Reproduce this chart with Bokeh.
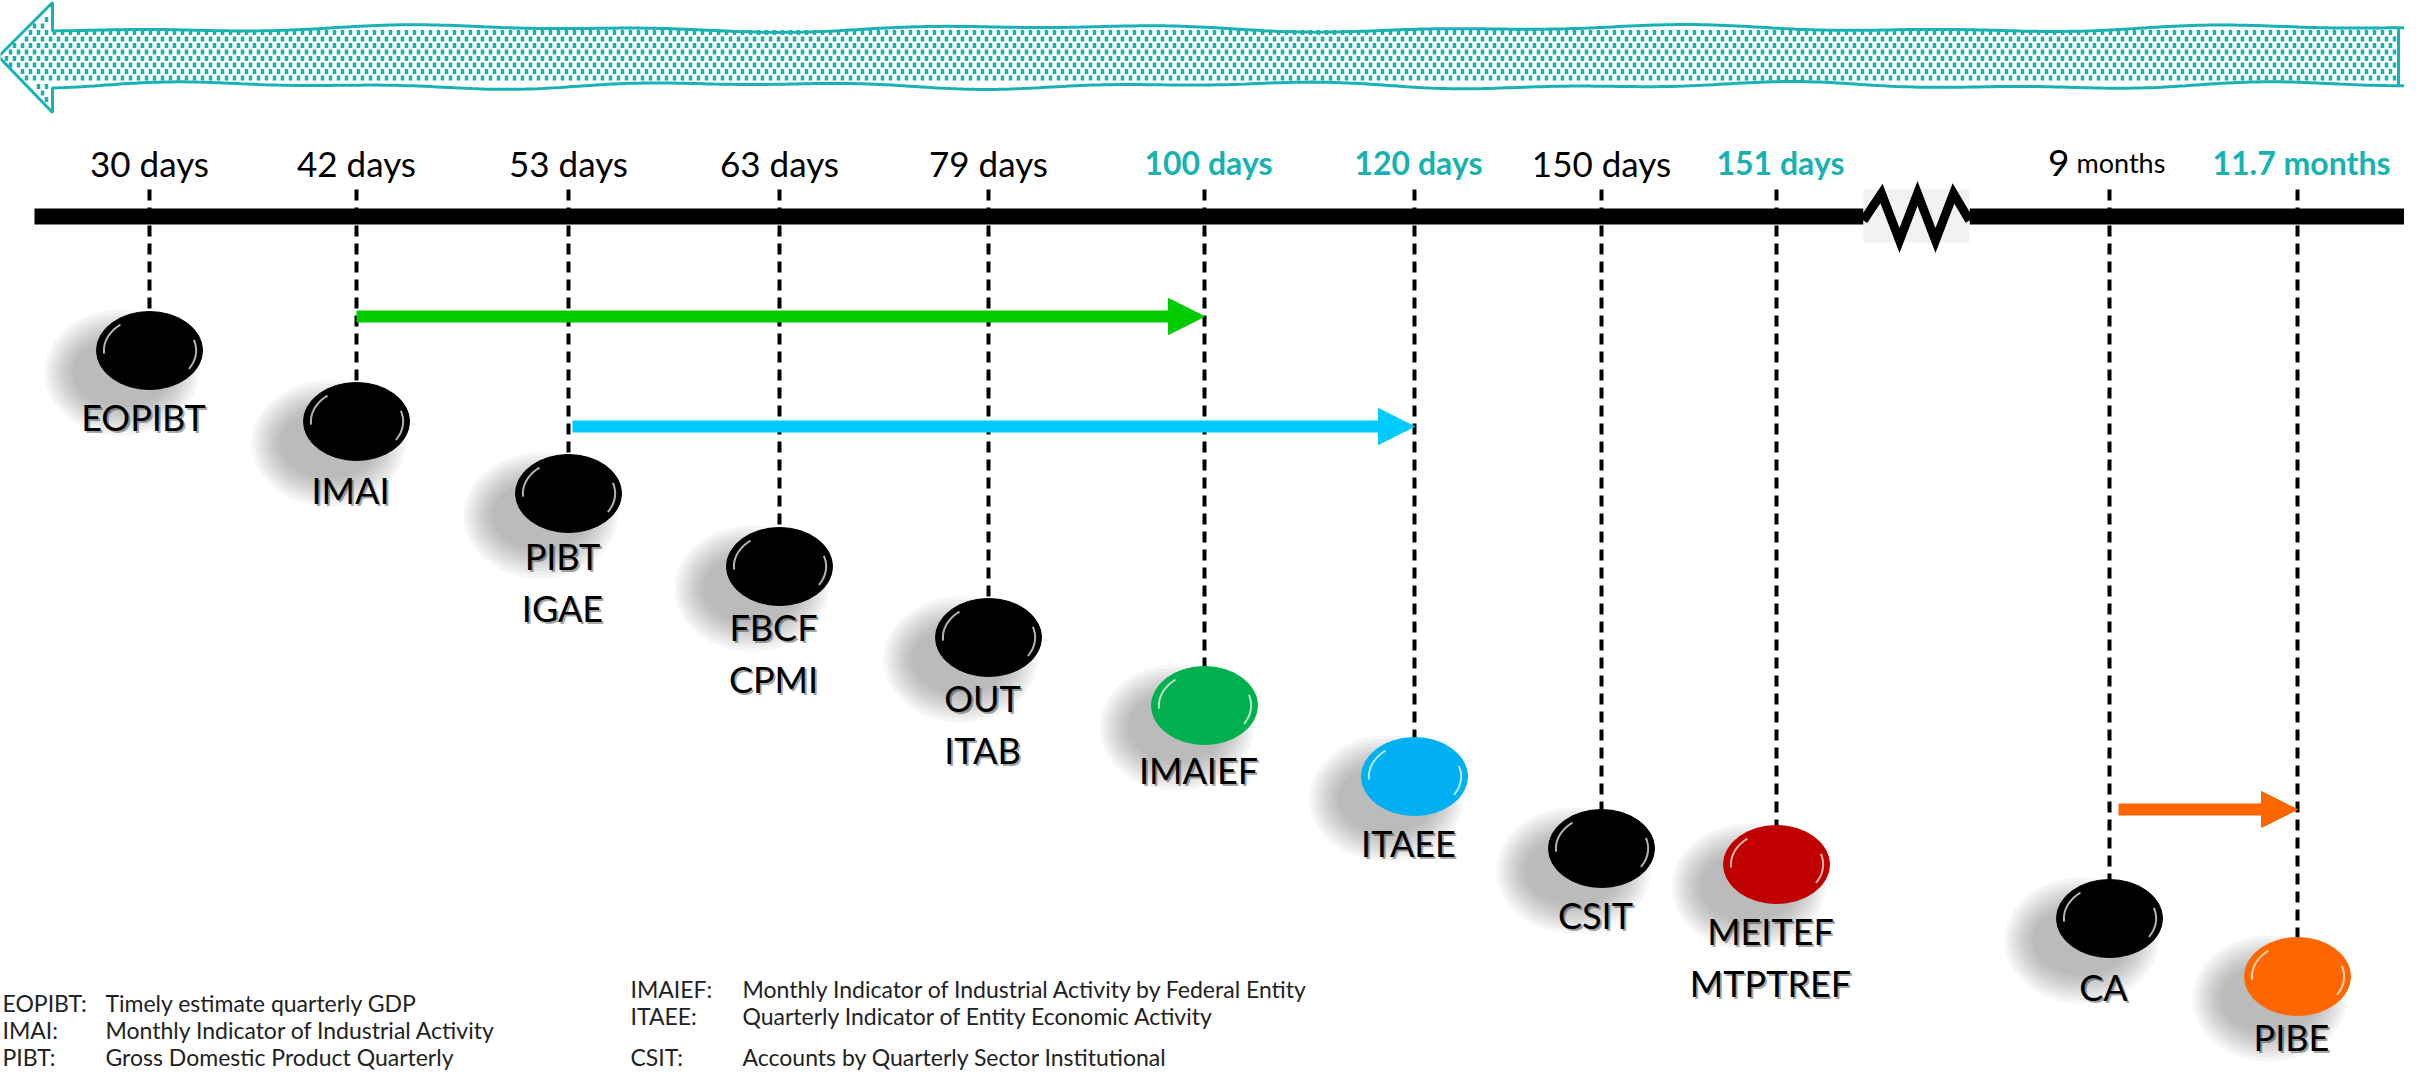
import numpy as np
from bokeh.plotting import figure
from bokeh.models import ColumnDataSource, Range1d, Arrow, NormalHead
from bokeh.core.properties import value
from bokeh.embed import file_html
from bokeh.resources import INLINE

# ---------------- data ----------------
tick_labels = ["30 days", "42 days", "53 days", "63 days", "79 days", "100 days",
               "120 days", "150 days", "151 days", "9 months", "11.7 months"]
tick_highlight = [False, False, False, False, False, True, True, False, True, False, True]
indicator_labels = ["EOPIBT", "IMAI", "PIBT\nIGAE", "FBCF\nCPMI", "OUT\nITAB", "IMAIEF",
                    "ITAEE", "CSIT", "MEITEF\nMTPTREF", "CA", "PIBE"]
indicator_colors = ["#000000", "#000000", "#000000", "#000000", "#000000", "#00B050",
                    "#00B0F0", "#000000", "#C00000", "#000000", "#FF6600"]
lag_from = [1, 2, 9]
lag_to = [5, 6, 10]
lag_colors = ["#00CC00", "#00CCFF", "#FF6600"]
legend_left_abbr = ["EOPIBT:", "IMAI:", "PIBT:"]
legend_left_desc = ["Timely estimate quarterly  GDP",
                    "Monthly Indicator of Industrial Activity",
                    "Gross Domestic Product Quarterly"]
legend_right_abbr = ["IMAIEF:", "ITAEE:", "CSIT:"]
legend_right_desc = ["Monthly Indicator of Industrial Activity by Federal Entity",
                     "Quarterly Indicator of Entity Economic Activity",
                     "Accounts by Quarterly Sector Institutional"]

# ---------------- layout (page pixels) ----------------
W, H = 2404, 1070
slot_x = [157, 364, 576, 787, 996, 1212, 1422, 1609, 1784, 2117, 2305]
row_y = [358, 429, 501, 574, 645, 713, 784, 856, 872, 926, 984]
label_dy = [44, 46, 40, 38, 38, 42, 44, 44, 44, 46, 38]
lag_y = [324, 434, 817]
lag_dx0 = [0, 4, 9]
legend_left_y = [1010, 1037, 1064]
legend_right_y = [996, 1023, 1064]
TEAL = "#19B2B2"
FONT = value("Lato")
ELL_W, ELL_H = 106, 78

p = figure(width=W, height=H, x_range=Range1d(8, 8 + W), y_range=Range1d(8 + H, 8),
           output_backend="svg", toolbar_location=None, min_border=0,
           x_axis_type=None, y_axis_type=None, outline_line_color=None)
p.grid.visible = False
p.background_fill_color = "white"

# ---- top stippled arrow ----
xs = np.linspace(60, 2418, 400)
top_y = 36 + 2.5 * np.sin(xs / 97.0) + 1.5 * np.sin(xs / 41.0 + 1.0)
bot_y = 93 + 2.5 * np.sin(xs / 83.0 + 2.0) + 1.5 * np.sin(xs / 37.0)
px = [6, 60] + list(xs) + list(xs[::-1]) + [60, 6]
py = [64, 10] + list(top_y) + list(bot_y[::-1]) + [120, 64]
p.patch(px, py, fill_color="white", line_color=None)

dx_, dy_ = [], []
for r, yy in enumerate(np.arange(40, 92, 6.5)):
    off = 0 if r % 2 == 0 else 4
    for xx in np.arange(14 + off, 2404, 8):
        if xx >= 62:
            ok = True
        else:
            ok = (64 - (xx - 6) * 52 / 54.0 + 3) < yy < (64 + (xx - 6) - 3)
        if ok:
            dx_.append(xx)
            dy_.append(yy)
for r, yy in enumerate(list(np.arange(14, 40, 6.5)) + list(np.arange(94, 118, 6.5))):
    off = 0 if r % 2 == 0 else 4
    for xx in np.arange(14 + off, 58, 8):
        if (64 - (xx - 6) * 52 / 54.0 + 4) < yy < (64 + (xx - 6) - 4):
            dx_.append(xx)
            dy_.append(yy)
p.rect(x=dx_, y=dy_, width=3.5, height=5, fill_color=TEAL, line_color=None)
p.line(px, py, line_color=TEAL, line_width=3)
p.segment(x0=[2406], y0=[top_y[-1]], x1=[2406], y1=[bot_y[-1]], line_color=TEAL, line_width=3)

# ---- axis line with break ----
p.segment(x0=[42, 1977], y0=[224, 224], x1=[1871, 2420], y1=[224, 224],
          line_color="black", line_width=16)
p.quad(left=[1871], right=[1977], top=[197], bottom=[250], fill_color="#F2F2F2", line_color=None)
p.line([1871, 1889, 1907, 1925, 1943, 1961, 1977], [228, 201, 248, 201, 248, 201, 228],
       line_color="black", line_width=9, line_join="miter")

# ---- lag arrows ----
for i in range(len(lag_from)):
    c = lag_colors[i]
    p.add_layout(Arrow(x_start=slot_x[lag_from[i]] + lag_dx0[i], y_start=lag_y[i],
                       x_end=slot_x[lag_to[i]], y_end=lag_y[i],
                       line_color=c, line_width=12,
                       end=NormalHead(size=36, fill_color=c, line_color=c, line_width=1)))

# ---- dashed drop lines ----
src = ColumnDataSource(dict(
    x=slot_x, y=row_y, color=indicator_colors, label=indicator_labels,
    top=[y - ELL_H / 2 for y in row_y],
    lx=[x - 6 for x in slot_x], ly=[y + d for y, d in zip(row_y, label_dy)],
    lxs=[x - 4 for x in slot_x], lys=[y + d + 2 for y, d in zip(row_y, label_dy)],
))
p.segment(x0="x", y0=197, x1="x", y1="top", source=src, line_color="black",
          line_width=4, line_dash="11 7")

# ---- soft shadows ----
for k in range(9):
    grow = (8 - k) * 7
    p.ellipse(x=[x - 28 for x in slot_x], y=[y + 22 for y in row_y],
              width=ELL_W - 8 + grow, height=ELL_H - 8 + grow,
              fill_color="#5a5a5a", fill_alpha=0.055, line_color=None)

# ---- balls ----
p.ellipse(x="x", y="y", width=ELL_W, height=ELL_H, source=src, fill_color="color",
          line_color="color", line_width=1)

hx, hy = [], []
for x, y in zip(slot_x, row_y):
    t = np.linspace(np.pi * 0.97, np.pi * 1.28, 20)
    hx.append(list(x + 0.86 * ELL_W / 2 * np.cos(t)))
    hy.append(list(y + 0.86 * ELL_H / 2 * np.sin(t)))
    t2 = np.linspace(-0.1 * np.pi, 0.18 * np.pi, 20)
    hx.append(list(x + 0.88 * ELL_W / 2 * np.cos(t2)))
    hy.append(list(y + 0.88 * ELL_H / 2 * np.sin(t2)))
p.multi_line(hx, hy, line_color="white", line_alpha=0.7, line_width=2)

# ---- indicator labels ----
p.text(x="lxs", y="lys", text="label", source=src, text_font=FONT, text_font_size="36px",
       text_align="center", text_baseline="top", text_color="#000000", text_alpha=0.35,
       text_line_height=1.2)
p.text(x="lx", y="ly", text="label", source=src, text_font=FONT, text_font_size="36px",
       text_align="center", text_baseline="top", text_color="#000000", text_line_height=1.2)

# ---- tick labels ----
BASE = 170
norm = [i for i in range(len(tick_labels)) if not tick_highlight[i] and tick_labels[i] != "9 months"]
bold = [i for i in range(len(tick_labels)) if tick_highlight[i]]
p.text(x=[slot_x[i] for i in norm], y=[BASE] * len(norm), text=[tick_labels[i] for i in norm],
       text_font=FONT, text_font_size="35px", text_align="center", text_baseline="alphabetic",
       text_color="black")
p.text(x=[slot_x[i] + 4 for i in bold], y=[BASE] * len(bold), text=[tick_labels[i] for i in bold],
       text_font=FONT, text_font_size="32px", text_font_style="bold", text_align="center",
       text_baseline="alphabetic", text_color=TEAL)
i9 = tick_labels.index("9 months")
num, unit = tick_labels[i9].split(" ")
p.text(x=[slot_x[i9] - 40], y=[BASE], text=[num], text_font=FONT, text_font_size="37px",
       text_align="right", text_baseline="alphabetic", text_color="black")
p.text(x=[slot_x[i9] - 33], y=[BASE], text=[unit], text_font=FONT, text_font_size="27px",
       text_align="left", text_baseline="alphabetic", text_color="black")

# ---- legend ----
LF = "23px"
p.text(x=[10] * 3, y=legend_left_y, text=legend_left_abbr, text_font=FONT, text_font_size=LF,
       text_baseline="middle", text_color="#222222")
p.text(x=[113] * 3, y=legend_left_y, text=legend_left_desc, text_font=FONT, text_font_size=LF,
       text_baseline="middle", text_color="#222222")
p.text(x=[638] * 3, y=legend_right_y, text=legend_right_abbr, text_font=FONT, text_font_size=LF,
       text_baseline="middle", text_color="#222222")
p.text(x=[750] * 3, y=legend_right_y, text=legend_right_desc, text_font=FONT, text_font_size=LF,
       text_baseline="middle", text_color="#222222")

open("out.html", "w").write(file_html(p, INLINE))
